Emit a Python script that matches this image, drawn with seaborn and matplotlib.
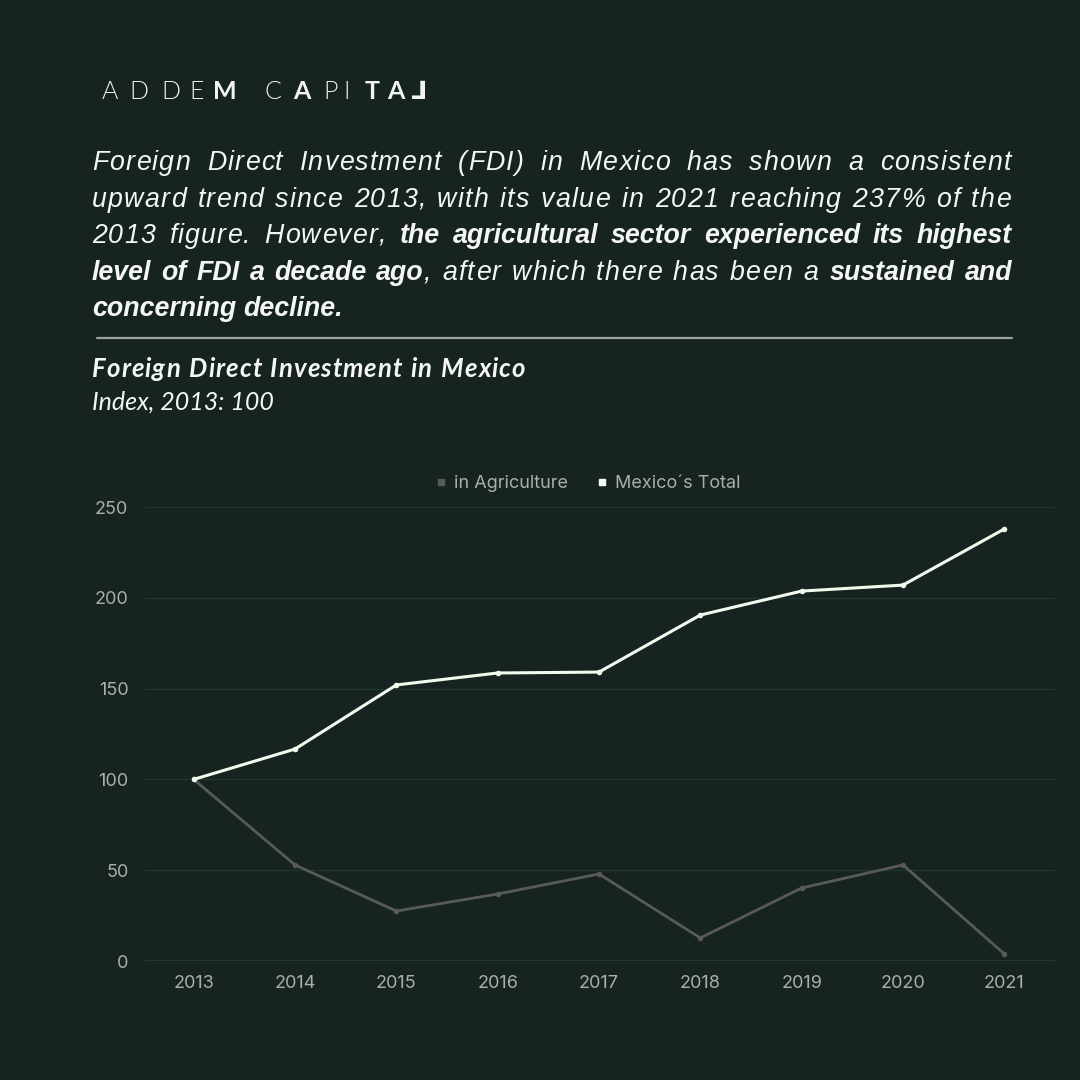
import matplotlib
matplotlib.use("Agg")
import matplotlib.pyplot as plt
from matplotlib.lines import Line2D
import seaborn as sns
import pandas as pd

# ---- data ----
years = [2013, 2014, 2015, 2016, 2017, 2018, 2019, 2020, 2021]
agriculture = [100, 52.9, 27.5, 36.9, 47.9, 12.7, 40.2, 52.9, 3.9]
mexico_total = [100, 116.7, 152.0, 158.6, 159.1, 190.5, 203.7, 207.0, 237.9]
series_names = ["in Agriculture", "Mexico´s Total"]
y_ticks = [0, 50, 100, 150, 200, 250]

BG = "#162320"
GRID = "#203430"
TICK = "#A7AFAB"
AGRI_C = "#595959"
TOTAL_C = "#F2FAEE"
TEXT_C = "#F4F6F4"

sns.set_theme(style="dark")
plt.rcParams["font.family"] = ["Inter", "DejaVu Sans"]

W, H = 1080, 1080
fig = plt.figure(figsize=(W / 100, H / 100), dpi=100, facecolor=BG)
renderer = fig.canvas.get_renderer()


def px(x, y):
    return x / W, 1 - y / H


def make_units(txt, track, **kw):
    """Return list of (artist, advance_px); chars drawn one by one when tracked."""
    pieces = list(txt) if track else [txt]
    out = []
    for p in pieces:
        t = fig.text(0, 0, p, va="baseline", ha="left", **kw)
        w = t.get_window_extent(renderer).width if p.strip() else kw.get("fontsize", 10) * 100 / 72 * 0.278
        out.append((t, w + track))
    return out


def place(units, x, base):
    for t, adv in units:
        t.set_position((x / W, 1 - base / H))
        x += adv
    return x


# ---- logo ----
logo = [("A", 110, False), ("D", 139, False), ("D", 171, False), ("E", 197, False),
        ("M", 225, True), ("C", 273, False), ("A", 302, True), ("P", 331, False),
        ("I", 347, False), ("T", 372, True), ("A", 396, True), ("\u2143", 419, True)]
for ch, xc, b in logo:
    fig.text(*px(xc, 99), ch, ha="center", va="baseline", fontsize=18,
             color="#F2F2F2", fontweight=700 if b else 300,
             family=["Lato", "DejaVu Sans"])

# ---- justified paragraph ----
PARA = dict(fontsize=19.3, style="italic", color=TEXT_C, family=["Liberation Sans", "DejaVu Sans"])
REG_TRACK = 1.2
LEFT, RIGHT = 92, 1012
para = [
    ([("Foreign Direct Investment (FDI) in Mexico has shown a consistent", False)], 170, True),
    ([("upward trend since 2013, with its value in 2021 reaching 237% of the", False)], 207, True),
    ([("2013 figure. However,", False), ("the agricultural sector experienced its highest", True)], 243, True),
    ([("level of FDI a decade ago", True), (", after which there has been a", False), ("sustained and", True)], 280, True),
    ([("concerning decline.", True)], 316, False),
]

for segments, base, justify in para:
    words = []  # each word: list of (text, bold)
    for seg, bold in segments:
        for w in seg.split():
            if w.startswith(",") and words:
                words[-1].append((",", bold))
                if w[1:]:
                    words.append([(w[1:], bold)])
                continue
            words.append([(w, bold)])
    units = []
    for word in words:
        u = []
        for txt, bold in word:
            u += make_units(txt, 0 if bold else REG_TRACK,
                            fontweight="bold" if bold else "normal", **PARA)
        units.append(u)
    total_w = sum(adv for u in units for _, adv in u)
    if justify and len(units) > 1:
        gap = (RIGHT - LEFT - total_w) / (len(units) - 1)
    else:
        gap = 0.278 * 19.3 * 100 / 72
    x = LEFT
    for u in units:
        x = place(u, x, base) + gap

# divider
fig.add_artist(Line2D([97 / W, 1012 / W], [1 - 338 / H] * 2, color="#9AA59F", lw=1.6))

# chart title
title_units = make_units("Foreign Direct Investment in Mexico", 1.0, fontsize=18.5, style="italic",
                         fontweight="bold", color=TEXT_C, family=["Lato", "DejaVu Sans"])
place(title_units, 92, 377)
fig.text(*px(92, 410), "Index, 2013: 100", fontsize=18, style="italic",
         color=TEXT_C, va="baseline", family=["Lato", "DejaVu Sans"])

# ---- line chart ----
df = pd.DataFrame({
    "year": years * 2,
    "value": agriculture + mexico_total,
    "series": [series_names[0]] * len(years) + [series_names[1]] * len(years),
})

ax = fig.add_axes([145 / W, 1 - 961 / H, (1055 - 145) / W, (961 - 507) / H])
ax.set_facecolor(BG)
sns.lineplot(data=df, x="year", y="value", hue="series",
             palette={series_names[0]: AGRI_C, series_names[1]: TOTAL_C},
             marker="o", markersize=4, markeredgewidth=0, linewidth=2.0,
             legend=False, ax=ax)
for l in ax.lines:
    if l.get_color() == TOTAL_C:
        l.set_linewidth(2.2)
        l.set_zorder(3)

ax.set_xlim(years[0] - 0.48, years[-1] + 0.5)
ax.set_ylim(0, 250)
ax.set_xticks(years)
ax.set_yticks(y_ticks)
ax.set_xlabel("")
ax.set_ylabel("")
ax.grid(axis="y", color=GRID, lw=1)
ax.grid(axis="x", visible=False)
ax.axhline(0, color="#2A3B37", lw=1.2, zorder=1)
for s in ax.spines.values():
    s.set_visible(False)
ax.tick_params(axis="both", length=0, labelsize=13, labelcolor=TICK)
ax.tick_params(axis="y", pad=12)
ax.tick_params(axis="x", pad=10)

handles = [Line2D([], [], marker="s", ls="none", color=AGRI_C, markersize=4.5),
           Line2D([], [], marker="s", ls="none", color=TOTAL_C, markersize=4.5)]
fig.legend(handles, series_names, loc="center", bbox_to_anchor=(587 / W, 1 - 484 / H),
           ncol=2, frameon=False, fontsize=13, labelcolor=TICK, handletextpad=0.3,
           columnspacing=1.5, handlelength=0.8)

fig.savefig("out.png", dpi=100, facecolor=BG)
